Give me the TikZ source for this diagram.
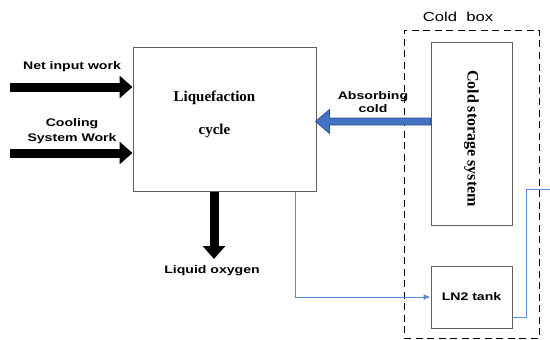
\documentclass[tikz,border=0pt]{standalone}
\usepackage{fontspec}
\setmainfont{Liberation Serif}
\newfontfamily\labelfont[FakeStretch=1.28]{Liberation Sans}
\usetikzlibrary{arrows.meta}
\tikzset{
  block/.style={draw=boxgray,line width=1pt,inner sep=0pt},
  work arrow/.style={line width=9pt,-{Triangle[length=13pt,width=22pt]}},
  cold arrow/.style={fill=coldfill,draw=coldedge,line width=0.8pt},
  pipe line/.style={draw=pipe,line width=1pt},
  flow label/.style={font=\labelfont\bfseries\fontsize{11}{15}\selectfont,align=center},
  box title/.style={font=\labelfont\fontsize{13}{15}\selectfont},
  cycle text/.style={font=\bfseries\fontsize{15}{18}\selectfont,align=center},
}
\definecolor{boxgray}{RGB}{95,95,95}
\definecolor{coldfill}{RGB}{68,114,196}
\definecolor{coldedge}{RGB}{47,82,143}
\definecolor{pipe}{RGB}{91,141,214}

\begin{document}
\begin{tikzpicture}[x=1pt,y=-1pt]
\useasboundingbox (0,0) rectangle (550,340);
% blocks
\node[block,minimum width=183pt,minimum height=144pt] (liq) at (224.5,119) {};
\node[cycle text] (liqtxt) at ([xshift=-10pt,yshift=5pt]liq.center) {Liquefaction\\[15pt]cycle};
\node[block,minimum width=81pt,minimum height=183pt] (csys) at (471.5,133.5) {};
\node[cycle text,rotate=-90,font=\bfseries\fontsize{16}{18}\selectfont] (csystxt)
  at ([yshift=-5pt]csys.center) {Cold storage system};
\node[block,minimum width=81pt,minimum height=62pt,font=\labelfont\bfseries\fontsize{11}{13}\selectfont]
  (ln2) at (471.5,297) {\raisebox{-4pt}{LN2 tank}};
\node[draw,line width=1pt,dash pattern=on 7pt off 4.5pt,minimum width=135pt,minimum height=308pt]
  (box) at (471.5,184) {};
\node[box title] (cbtitle) at (458,17) {Cold\ \ box};

% work in and product out
\coordinate (w1) at (10,87);
\coordinate (w2) at (10,153);
\coordinate (lox) at (214,259);
\draw[work arrow] (w1) -- (w1 -| liq.west);
\draw[work arrow] (w2) -- (w2 -| liq.west);
\draw[work arrow] (lox |- liq.south) -- (lox);
\node[flow label] (netlbl) at (72,67) {Net input work};
\node[flow label] (coollbl) at (72,131) {Cooling\\System Work};
\node[flow label] (loxlbl) at (212,271) {Liquid oxygen};

% cold recovery
\filldraw[cold arrow] (csys.west |- 0,121.5) ++(0,-3.5) -- ++(-101,0) -- ++(0,-8.5)
  -- ++(-14,12) -- ++(14,12) -- ++(0,-8.5) -- ++(101,0) -- cycle;
\node[flow label,font=\labelfont\bfseries\fontsize{11}{13}\selectfont] (abslbl) at (373,102) {Absorbing\\cold};

% nitrogen pipes
\coordinate (tap) at (295,297);
\coordinate (riser) at (526,317);
\coordinate (outlet) at (550,189);
\draw[pipe line,-{Latex[length=7pt,width=6pt]}] (tap |- liq.south) -- (tap) -- (ln2.west);
\draw[pipe line] ([yshift=-20pt]ln2.east) -- (riser) |- (outlet);
\end{tikzpicture}
\end{document}
